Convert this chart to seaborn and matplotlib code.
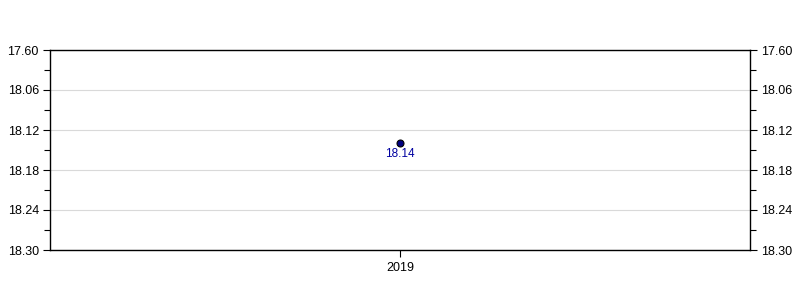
import matplotlib
matplotlib.use("Agg")
import matplotlib.pyplot as plt
import seaborn as sns
import pandas as pd
from matplotlib.ticker import FixedLocator, MultipleLocator

years = ["2019"]
values = [18.14]
ytick_values = [18.00, 18.06, 18.12, 18.18, 18.24, 18.30]
ytick_labels = ["17.60", "18.06", "18.12", "18.18", "18.24", "18.30"]

sns.set_style("white")
plt.rcParams['font.family'] = ['Liberation Sans', 'DejaVu Sans']
plt.rcParams['text.color'] = 'black'
plt.rcParams['xtick.color'] = 'black'
plt.rcParams['ytick.color'] = 'black'

df = pd.DataFrame({"year": years, "value": values})

fig = plt.figure(figsize=(8, 3), dpi=100)
ax = fig.add_axes([50/800, 50/300, 700/800, 200/300])

sns.stripplot(data=df, x="year", y="value", jitter=False, ax=ax,
              color="#000080", edgecolor="black", linewidth=0.8, size=5, zorder=5)

ax.set_xlim(-0.5, 0.5)
ax.set_ylim(18.30, 18.00)
ax.yaxis.set_major_locator(FixedLocator(ytick_values))
ax.set_yticklabels(ytick_labels)
ax.yaxis.set_minor_locator(MultipleLocator(0.03))
ax.grid(axis="y", color="#d9d9d9", linewidth=0.8)
ax.set_axisbelow(True)
ax.set_xlabel("")
ax.set_ylabel("")

for s in ax.spines.values():
    s.set_visible(True)
    s.set_color("black")
    s.set_linewidth(1)

ax.tick_params(axis="y", which="both", left=True, right=True, labelleft=True,
               labelright=True, direction="out", colors="black", labelsize=9, width=0.8)
ax.tick_params(axis="y", which="major", length=5, pad=3)
ax.tick_params(axis="y", which="minor", length=4)
ax.tick_params(axis="x", bottom=True, direction="out", length=5, labelsize=9,
               colors="black", width=0.8)

for i, (yr, v) in enumerate(zip(years, values)):
    ax.annotate(f"{v:.2f}", xy=(i, v), xytext=(0, -7.5), textcoords="offset points",
                ha="center", va="center", color="#0000a0", fontsize=8.5)

fig.savefig("out.png", dpi=100)
